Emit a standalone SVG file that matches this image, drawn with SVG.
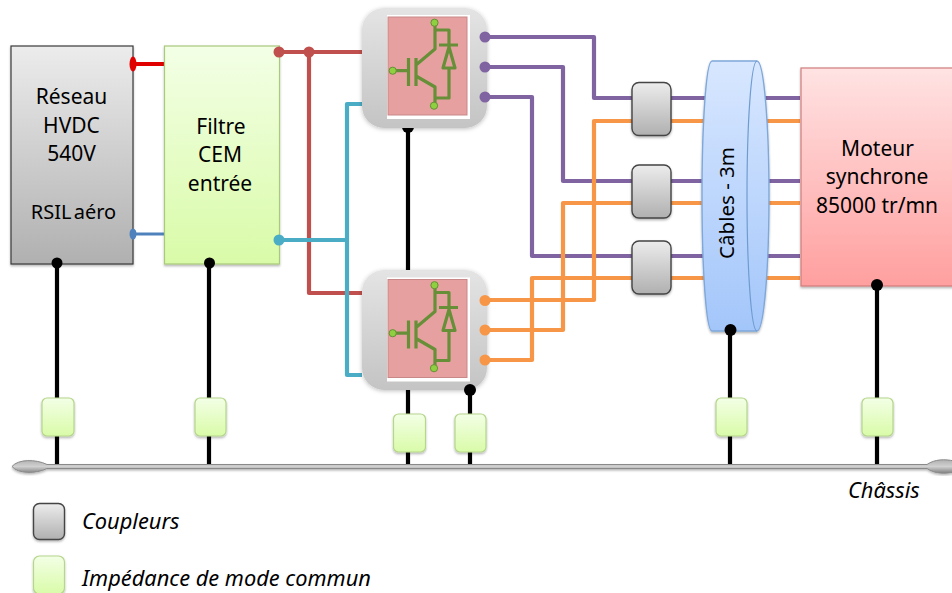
<svg xmlns="http://www.w3.org/2000/svg" xmlns:xlink="http://www.w3.org/1999/xlink" width="952" height="593" viewBox="0 0 952 593">
<style>
text{font-family:"Noto Sans","Open Sans","Liberation Sans",sans-serif;font-size:21px;fill:#000;text-anchor:middle}
.leg{font-style:italic;text-anchor:start;font-size:21.800px}
.w{fill:none;stroke-width:4.200;stroke-linejoin:round}
.pu{stroke:#8064a2}.or{stroke:#f79646}.br{stroke:#c0504d}.te{stroke:#4bacc6}
.bk{fill:none;stroke:#000;stroke-width:4.200}
.imp{fill:url(#gImp);stroke:#b5d68b;stroke-width:1.2;filter:url(#sh)}
.cpl{fill:url(#gGrey);stroke:#444;stroke-width:1.4;filter:url(#sh)}
.mod{fill:url(#gMod);filter:url(#sh2)}
.ig{fill:none;stroke:#668f38;stroke-width:3.200;stroke-linejoin:round;filter:url(#sh3)}
.gd{fill:#8ed03f;stroke:#668f38;stroke-width:1}
</style>
<defs>
<linearGradient id="gGrey" x1="0" y1="0" x2="0" y2="1"><stop offset="0" stop-color="#ececec"/><stop offset="1" stop-color="#b0b0b0"/></linearGradient>
<linearGradient id="gMod" x1="0" y1="0" x2="0" y2="1"><stop offset="0" stop-color="#e4e4e4"/><stop offset="1" stop-color="#c4c4c4"/></linearGradient>
<linearGradient id="gImp" x1="0" y1="0" x2="0" y2="1"><stop offset="0" stop-color="#f3ffe6"/><stop offset="1" stop-color="#d9fba8"/></linearGradient>
<linearGradient id="gMot" x1="0" y1="0" x2="0" y2="1"><stop offset="0" stop-color="#ffe3e3"/><stop offset="1" stop-color="#ff9f9f"/></linearGradient>
<linearGradient id="gCab" x1="0" y1="0" x2="0" y2="1"><stop offset="0" stop-color="#d8e7ff"/><stop offset="1" stop-color="#a3c6fa"/></linearGradient>
<linearGradient id="gCh" x1="0" y1="0" x2="0" y2="1"><stop offset="0" stop-color="#b0b0b0"/><stop offset=".5" stop-color="#d0d0d0"/><stop offset="1" stop-color="#808080"/></linearGradient>
<filter id="sh" x="-20%" y="-20%" width="140%" height="140%"><feDropShadow dx="0" dy="1.5" stdDeviation="1.2" flood-color="#000" flood-opacity=".3"/></filter>
<filter id="sh2" x="-20%" y="-20%" width="140%" height="140%"><feDropShadow dx="0" dy="1" stdDeviation="2" flood-color="#000" flood-opacity=".25"/></filter>
<filter id="sh3" x="-20%" y="-20%" width="140%" height="140%"><feGaussianBlur stdDeviation=".4"/></filter>
<g id="igbt">
<rect x="387" y="15" width="83" height="104" fill="#fff"/>
<rect x="388" y="17" width="79" height="98" fill="#e6a0a0" stroke="#c98888" stroke-width="1"/>
<path class="ig" d="M393 70.7H407M408.500 58V86M416 58V86M416 65L435 49V23M416 76L435 87V106M435 30H449V45M439 45H458M449 47L443 68H455ZM449 68V98H435"/>
<circle class="gd" cx="434.500" cy="22.700" r="3.600"/>
<circle class="gd" cx="434" cy="105.700" r="3.600"/>
<circle class="gd" cx="392.700" cy="70.700" r="3.600"/>
</g>
</defs>
<g id="connectors">
<path class="w pu" d="M485 37H594V98H800M485 67H563V181H800M485 97H532V256H800"/>
<path class="w or" d="M485 300H594V121H800M485 330H563V203H800M485 360H532V278H800"/>
<path class="w br" d="M279 52H362M309 52V293H362"/>
<path class="w te" d="M279 240H347M362 104H347V375H362"/>
<path fill="none" stroke="#e00000" stroke-width="4" d="M133 64H164"/>
<path fill="none" stroke="#4f81bd" stroke-width="3" d="M133 234H164"/>
<path class="bk" d="M57 263V466M209 263V466M408 128V466M470 390V466M730 330V466M877 285V466"/>
<circle cx="408" cy="127" r="6"/>
</g>
<g id="chassis">
<path d="M12 466.500C18 459 36 459 47 464.500H927C935 459 945 459 954 461V472C945 474 935 474 927 468.500H47C36 474 18 474 12 466.500Z" fill="url(#gCh)" stroke="#8a8a8a" stroke-width="1" filter="url(#sh)"/>
</g>
<g id="reseau"><rect x="11" y="46" width="122" height="218" fill="url(#gGrey)" stroke="#3a3a3a" stroke-width="1.2" filter="url(#sh)"/>
<text x="71.500" y="104">Réseau</text><text x="71.500" y="133">HVDC</text><text x="71.500" y="161">540V</text><text x="73.500" y="219" style="word-spacing:-3px;font-size:20px">RSIL aéro</text></g>
<g id="filtre"><rect x="164.500" y="46" width="115" height="218" fill="url(#gImp)" stroke="#a9c97c" stroke-width="1.2" filter="url(#sh)"/>
<text x="221" y="134">Filtre</text><text x="220" y="162">CEM</text><text x="220" y="191">entrée</text></g>
<g id="module-haut"><rect class="mod" x="362" y="8" width="125" height="120" rx="22"/><use xlink:href="#igbt" href="#igbt"/></g>
<g id="module-bas"><rect class="mod" x="362" y="270" width="125" height="120" rx="22"/><use xlink:href="#igbt" href="#igbt" transform="translate(0 262.500)"/></g>
<g id="coupleur-1"><rect class="cpl" x="632" y="82.500" width="39" height="53" rx="7"/></g>
<g id="coupleur-2"><rect class="cpl" x="632" y="165" width="39" height="53" rx="7"/></g>
<g id="coupleur-3"><rect class="cpl" x="632" y="241" width="39" height="53" rx="7"/></g>
<g id="cables">
<path d="M712 61H757C764 61 769 125 769 196C769 267 764 331 757 331H712C706 331 702 267 702 196C702 125 706 61 712 61Z" fill="url(#gCab)" stroke="#7fa8da" stroke-width="1.4" filter="url(#sh)"/>
<path d="M757 61C751 61 747 125 747 196C747 267 751 331 757 331" fill="none" stroke="#6f9ccf" stroke-width="1.2"/>
<text transform="translate(734 203) rotate(-90)" style="font-size:20.500px">Câbles - 3m</text>
</g>
<g id="moteur"><rect x="801" y="68" width="155" height="218" fill="url(#gMot)" stroke="#d07c7c" stroke-width="1.2" filter="url(#sh)"/>
<text x="877.500" y="156">Moteur</text><text x="877" y="184">synchrone</text><text x="877" y="213">85000 tr/mn</text>
</g>
<g id="terminals">
<circle cx="57" cy="263" r="5.500"/><circle cx="209.500" cy="263" r="5.500"/>
<ellipse cx="133" cy="64" rx="3.500" ry="7.500" fill="#e00000"/>
<ellipse cx="133" cy="234" rx="3.500" ry="5.500" fill="#4f81bd"/>
<circle cx="279" cy="52" r="5.500" fill="#c0504d"/><circle cx="309" cy="52" r="5.500" fill="#c0504d"/>
<circle cx="279" cy="240" r="5.500" fill="#4bacc6"/>
<circle cx="485" cy="37" r="5.500" fill="#8064a2"/><circle cx="485" cy="67" r="5.500" fill="#8064a2"/><circle cx="485" cy="97" r="5.500" fill="#8064a2"/>
<circle cx="485" cy="300.500" r="5.500" fill="#f79646"/><circle cx="485" cy="330" r="5.500" fill="#f79646"/><circle cx="485" cy="360" r="5.500" fill="#f79646"/>
<circle cx="470" cy="390" r="6"/><circle cx="730.500" cy="330" r="6"/><circle cx="877" cy="285" r="6"/>
</g>
<g id="impedances">
<rect class="imp" x="42" y="398" width="32" height="38" rx="5"/>
<rect class="imp" x="195" y="398" width="31" height="38" rx="5"/>
<rect class="imp" x="393.500" y="414" width="32" height="38" rx="5"/>
<rect class="imp" x="455" y="414" width="31" height="38" rx="5"/>
<rect class="imp" x="716" y="398" width="31" height="38" rx="5"/>
<rect class="imp" x="862" y="398" width="31" height="38" rx="5"/>
</g>
<g id="legende">
<text class="leg" x="848" y="498">Châssis</text>
<rect class="cpl" x="33.500" y="503.500" width="31" height="36" rx="6"/>
<text class="leg" x="82" y="529">Coupleurs</text>
<rect class="imp" x="33.500" y="556" width="31" height="38" rx="6"/>
<text class="leg" x="82" y="586">Impédance de mode commun</text>
</g>
</svg>
